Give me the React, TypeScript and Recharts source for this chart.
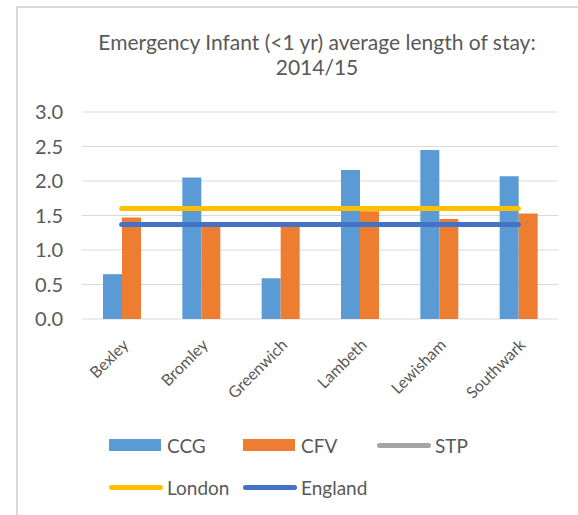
import React from "react";
import {
  ComposedChart,
  Bar,
  Line,
  XAxis,
  YAxis,
  CartesianGrid,
  Legend,
} from "recharts";

const boroughs = ["Bexley", "Bromley", "Greenwich", "Lambeth", "Lewisham", "Southwark"];
const ccgValues = [0.65, 2.05, 0.59, 2.16, 2.45, 2.07];
const cfvValues = [1.47, 1.36, 1.35, 1.56, 1.45, 1.53];
const stpValues: (number | null)[] = [null, null, null, null, null, null];
const londonValues = [1.6, 1.6, 1.6, 1.6, 1.6, 1.6];
const englandValues = [1.37, 1.37, 1.37, 1.37, 1.37, 1.37];
const yTicks = [0, 0.5, 1, 1.5, 2, 2.5, 3];

// legend order as drawn: bars first, then the benchmark lines
const legendItems = [
  { key: "CCG", color: "#5B9BD5", kind: "bar" },
  { key: "CFV", color: "#ED7D31", kind: "bar" },
  { key: "STP", color: "#A5A5A5", kind: "line" },
  { key: "London", color: "#FFC000", kind: "line" },
  { key: "England", color: "#4472C4", kind: "line" },
];

const FONT = "Lato, 'Open Sans', sans-serif";
const TEXT = "#595959";
const GRID = "#d9d9d9";

const rows = boroughs.map((name, i) => ({
  name,
  CCG: ccgValues[i],
  CFV: cfvValues[i],
  STP: stpValues[i],
  London: londonValues[i],
  England: englandValues[i],
}));

function LegendBox() {
  return (
    <div
      style={{
        display: "flex",
        flexWrap: "wrap",
        width: 402,
        marginLeft: 109,
        fontFamily: FONT,
        fontSize: 19,
        color: TEXT,
      }}
    >
      {legendItems.map((item) => (
        <div
          key={item.key}
          style={{ width: 134, height: 42, display: "flex", alignItems: "center" }}
        >
          {item.kind === "bar" ? (
            <span
              style={{ width: 52, height: 12, background: item.color, marginRight: 6 }}
            />
          ) : (
            <span
              style={{
                width: 54,
                height: 5,
                borderRadius: 3,
                background: item.color,
                marginRight: 4,
              }}
            />
          )}
          <span>{item.key}</span>
        </div>
      ))}
    </div>
  );
}

export default function App() {
  return (
    <div
      style={{
        position: "absolute",
        left: 0,
        top: 0,
        width: 578,
        height: 515,
        overflow: "hidden",
        background: "#fff",
      }}
    >
      <div
        style={{
          position: "absolute",
          left: 16,
          top: 6,
          width: 580,
          height: 520,
          borderLeft: `2px solid ${GRID}`,
          borderTop: `2px solid ${GRID}`,
        }}
      />
      <div
        style={{
          position: "absolute",
          left: 36,
          top: 29,
          width: 562,
          textAlign: "center",
          fontFamily: FONT,
          fontSize: 21,
          lineHeight: "25px",
          color: TEXT,
        }}
      >
        Emergency Infant (&lt;1 yr) average length of stay:
        <br />
        2014/15
      </div>
      <ComposedChart
        width={578}
        height={515}
        data={rows}
        margin={{ top: 112, right: 20, bottom: 136, left: 0 }}
        barGap={0}
        barSize={19}
        style={{ position: "absolute", left: 0, top: 0 }}
      >
        <CartesianGrid vertical={false} stroke={GRID} strokeWidth={1} />
        <XAxis
          dataKey="name"
          interval={0}
          axisLine={false}
          tickLine={false}
          angle={-45}
          textAnchor="end"
          tickMargin={13}
          height={60}
          tick={{ fill: TEXT, fontSize: 16, fontFamily: FONT }}
        />
        <YAxis
          domain={[0, 3]}
          ticks={yTicks}
          tickFormatter={(v: number) => v.toFixed(1)}
          axisLine={false}
          tickLine={false}
          width={82}
          tickMargin={13}
          tick={{ fill: TEXT, fontSize: 20, fontFamily: FONT }}
        />
        <Bar dataKey="CCG" fill="#5B9BD5" isAnimationActive={false} />
        <Bar dataKey="CFV" fill="#ED7D31" isAnimationActive={false} />
        <Line
          dataKey="STP"
          stroke="#A5A5A5"
          strokeWidth={5}
          strokeLinecap="round"
          dot={false}
          activeDot={false}
          isAnimationActive={false}
        />
        <Line
          dataKey="London"
          stroke="#FFC000"
          strokeWidth={5}
          strokeLinecap="round"
          dot={false}
          activeDot={false}
          isAnimationActive={false}
        />
        <Line
          dataKey="England"
          stroke="#4472C4"
          strokeWidth={5}
          strokeLinecap="round"
          dot={false}
          activeDot={false}
          isAnimationActive={false}
        />
        <Legend
          layout="horizontal"
          verticalAlign="middle"
          align="center"
          content={<LegendBox />}
          wrapperStyle={{ top: 424, left: 0, width: 578 }}
        />
      </ComposedChart>
    </div>
  );
}
